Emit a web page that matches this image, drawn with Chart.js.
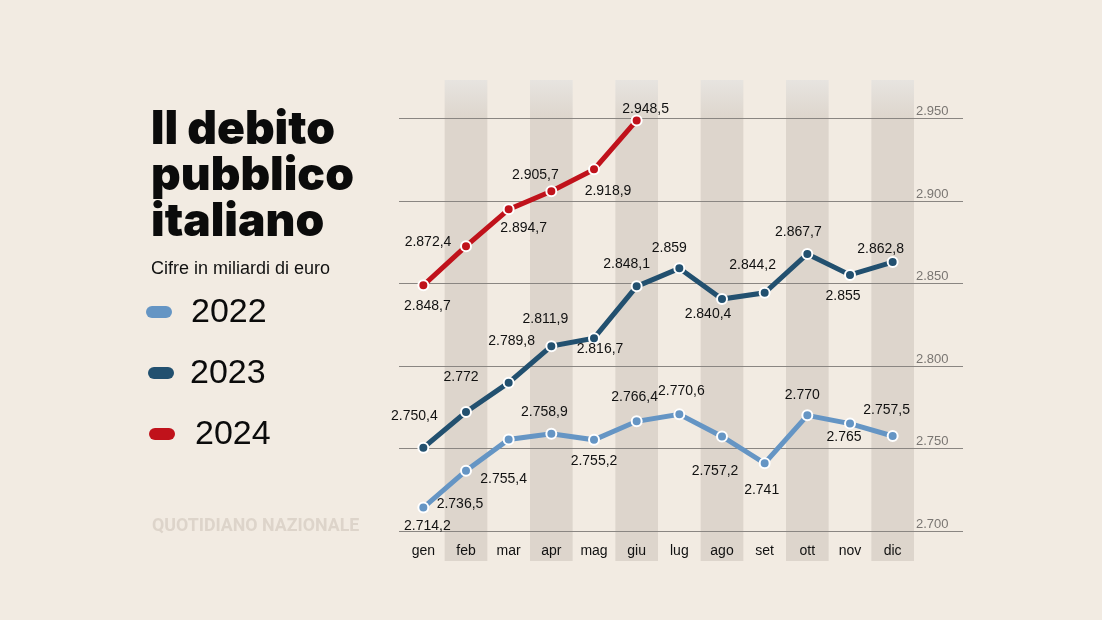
<!DOCTYPE html>
<html lang="it">
<head>
<meta charset="utf-8">
<title>Il debito pubblico italiano</title>
<script src="https://cdn.jsdelivr.net/npm/chart.js@4/dist/chart.umd.min.js"></script>
<style>
    body { margin: 0; background: #f2ebe2; }
    #wrap { position: relative; width: 1102px; height: 620px; overflow: hidden; }
    #chart { position: absolute; left: 0; top: 0; }
    .title {
        position: absolute; left: 151px; top: 96px; margin: 0;
        font: 900 48px/47px Inter, sans-serif; color: #0b0b0b;
    }
    .subtitle {
        position: absolute; left: 151px; top: 258px;
        font: 18px/20px "Liberation Sans", Arial, sans-serif; color: #111;
    }
    .pill { position: absolute; width: 26px; height: 12px; border-radius: 6px; }
    .year {
        position: absolute; font: 34px/34px "Liberation Sans", Arial, sans-serif; color: #0b0b0b;
    }
    .brand {
        position: absolute; left: 152px; top: 515px; white-space: nowrap;
        font: 700 19px/19px Roboto, sans-serif; color: #ddd4ca;
        transform-origin: left top;
    }
</style>
</head>
<body>
<div id="wrap">
    <canvas id="chart" width="1102" height="620"></canvas>
    <h1 class="title" id="title">Il debito<br>pubblico<br>italiano</h1>
    <div class="subtitle">Cifre in miliardi di euro</div>
    <div class="pill" style="left:146px;top:306px;background:#6595c4"></div>
    <div class="year" style="left:191px;top:293px">2022</div>
    <div class="pill" style="left:148px;top:367px;background:#22506f"></div>
    <div class="year" style="left:190px;top:354px">2023</div>
    <div class="pill" style="left:149px;top:428px;background:#c0121b"></div>
    <div class="year" style="left:195px;top:415px">2024</div>
    <div class="brand" id="brand">QUOTIDIANO NAZIONALE</div>
</div>
<script>
// Data (miliardi di euro)
const months = ['gen', 'feb', 'mar', 'apr', 'mag', 'giu', 'lug', 'ago', 'set', 'ott', 'nov', 'dic'];
const debt2022 = [2714.2, 2736.5, 2755.4, 2758.9, 2755.2, 2766.4, 2770.6, 2757.2, 2741, 2770, 2765, 2757.5];
const debt2023 = [2750.4, 2772, 2789.8, 2811.9, 2816.7, 2848.1, 2859, 2840.4, 2844.2, 2867.7, 2855, 2862.8];
const debt2024 = [2848.7, 2872.4, 2894.7, 2905.7, 2918.9, 2948.5];
const yTicks = [2700, 2750, 2800, 2850, 2900, 2950];

// Label placement relative to each point [dx, dy]
const labelOffsets2022 = [[4, 19], [-6, 33], [-5, 40], [-7, -22], [0, 21], [-2, -24], [2, -23], [-7, 35], [-3, 27], [-5, -20], [-6, 14], [-6, -26]];
const labelOffsets2023 = [[-9, -32], [-5, -35], [3, -42], [-6, -27], [6, 11], [-10, -22], [-10, -20], [-14, 15], [-12, -28], [-9, -22], [-7, 21], [-12, -13]];
const labelOffsets2024 = [[4, 21], [-38, -4], [15, 19], [-16, -16], [14, 22], [9, -11]];

const colors = {
    y2022: '#6595c4',
    y2023: '#22506f',
    y2024: '#c0121b',
    band: '#ddd5cc',
    bandTop: '#e7e4e0',
    grid: '#8a8682',
    tick: '#7a7672',
    text: '#111111'
};

// 2848.7 -> "2.848,7"
function fmt(v) {
    const [i, d] = v.toFixed(1).split('.');
    const int = i.replace(/\B(?=(\d{3})+(?!\d))/g, '.');
    return d === '0' ? int : int + ',' + d;
}

// Fit the title: "pubblico" about 203px wide, glyph tops at y=108, 46px between lines
function fitTitle() {
    const el = document.getElementById('title');
    const c = document.createElement('canvas').getContext('2d');
    let size = 48;
    c.font = `900 ${size}px Inter`;
    size = size * 203 / c.measureText('pubblico').width;
    c.font = `900 ${size}px Inter`;
    const m = c.measureText('Il debito');
    const lh = 46;
    const half = (lh - (m.fontBoundingBoxAscent + m.fontBoundingBoxDescent)) / 2;
    const baseline = 108 + m.actualBoundingBoxAscent;
    el.style.fontSize = size + 'px';
    el.style.lineHeight = lh + 'px';
    el.style.top = (baseline - half - m.fontBoundingBoxAscent) + 'px';
}
fitTitle();

// Shaded columns behind even months
const bandsPlugin = {
    id: 'bands',
    beforeDraw(chart) {
        const { ctx, scales: { x } } = chart;
        const w = x.width / months.length;
        const top = 80, bottom = 561;
        months.forEach((m, i) => {
            if (i % 2 === 0) return;
            const cx = x.getPixelForValue(i);
            const g = ctx.createLinearGradient(0, top, 0, top + 40);
            g.addColorStop(0, colors.bandTop);
            g.addColorStop(1, colors.band);
            ctx.fillStyle = g;
            ctx.fillRect(cx - w / 2, top, w, bottom - top);
        });
    }
};

// Horizontal rules with the value on the right
const gridPlugin = {
    id: 'grid',
    beforeDatasetsDraw(chart) {
        const { ctx, scales: { y } } = chart;
        ctx.save();
        ctx.strokeStyle = colors.grid;
        ctx.lineWidth = 1.2;
        ctx.font = '13px "Liberation Sans", Arial, sans-serif';
        ctx.fillStyle = colors.tick;
        ctx.textAlign = 'left';
        ctx.textBaseline = 'alphabetic';
        yTicks.forEach(t => {
            const py = Math.round(y.getPixelForValue(t)) + 0.5;
            ctx.beginPath();
            ctx.moveTo(399, py);
            ctx.lineTo(963, py);
            ctx.stroke();
            ctx.fillText(fmt(t), 916, py - 4);
        });
        ctx.restore();
    }
};

// Value labels next to each point
const valueLabels = {
    id: 'valueLabels',
    afterDatasetsDraw(chart) {
        const { ctx } = chart;
        ctx.save();
        ctx.font = '14px "Liberation Sans", Arial, sans-serif';
        ctx.fillStyle = colors.text;
        ctx.textAlign = 'center';
        ctx.textBaseline = 'middle';
        chart.data.datasets.forEach((ds, di) => {
            const meta = chart.getDatasetMeta(di);
            meta.data.forEach((pt, i) => {
                const [dx, dy] = ds.labelOffsets[i];
                ctx.fillText(fmt(ds.data[i]), pt.x + dx, pt.y + dy);
            });
        });
        ctx.restore();
    }
};

function series(label, data, color, offsets) {
    return {
        label,
        data,
        labelOffsets: offsets,
        borderColor: color,
        backgroundColor: color,
        borderWidth: 5,
        tension: 0,
        pointRadius: 5,
        pointBackgroundColor: color,
        pointBorderColor: '#ffffff',
        pointBorderWidth: 2
    };
}

new Chart(document.getElementById('chart'), {
    type: 'line',
    data: {
        labels: months,
        datasets: [
            series('2022', debt2022, colors.y2022, labelOffsets2022),
            series('2023', debt2023, colors.y2023, labelOffsets2023),
            series('2024', debt2024, colors.y2024, labelOffsets2024)
        ]
    },
    options: {
        responsive: false,
        animation: false,
        layout: { padding: { left: 402, right: 188, top: 80, bottom: 59 } },
        plugins: {
            legend: { display: false },
            tooltip: { enabled: false }
        },
        scales: {
            x: {
                offset: true,
                grid: { display: false, drawTicks: false },
                border: { display: false },
                afterFit: (scale) => { scale.height = 30; },
                ticks: {
                    padding: 12,
                    color: colors.text,
                    font: { family: '"Liberation Sans", Arial, sans-serif', size: 14 }
                }
            },
            y: {
                display: false,
                min: 2700,
                max: 2973
            }
        }
    },
    plugins: [bandsPlugin, gridPlugin, valueLabels]
});

// squeeze the watermark to its condensed width
const brand = document.getElementById('brand');
brand.style.transform = `scaleX(${207 / brand.offsetWidth})`;
</script>
</body>
</html>
